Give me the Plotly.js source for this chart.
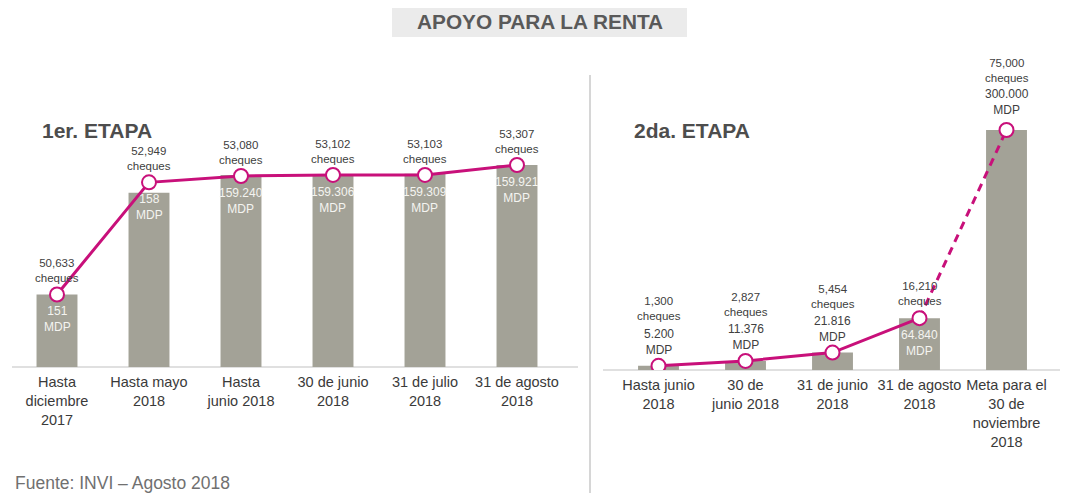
<!DOCTYPE html>
<html>
<head>
<meta charset="utf-8">
<script src="https://cdn.plot.ly/plotly-3.0.1.min.js"></script>
<style>html,body{margin:0;padding:0;background:#fff;}#chart{width:1065px;height:493px;}</style>
</head>
<body>
<div id="chart"></div>
<script>
// ---- Data ----
const etapa1Cats = ['Hasta<br>diciembre<br>2017', 'Hasta mayo<br>2018', 'Hasta<br>junio 2018', '30 de junio<br>2018', '31 de julio<br>2018', '31 de agosto<br>2018'];
const etapa1MDP = [151, 158, 159.240, 159.306, 159.309, 159.921];
const etapa1MDPLabels = ['151', '158', '159.240', '159.306', '159.309', '159.921'];
const etapa1Cheques = [50633, 52949, 53080, 53102, 53103, 53307];

const etapa2Cats = ['Hasta junio<br>2018', '30 de<br>junio 2018', '31 de junio<br>2018', '31 de agosto<br>2018', 'Meta para el<br>30 de<br>noviembre<br>2018'];
const etapa2MDP = [5.2, 11.376, 21.816, 64.840, 300];
const etapa2MDPLabels = ['5.200', '11.376', '21.816', '64.840', '300.000'];
const etapa2Cheques = [1300, 2827, 5454, 16210, 75000];

// ---- Style ----
const FONT = 'Arial, "Liberation Sans", sans-serif';
const BAR = '#a3a297';
const MAG = '#c8107a';
const TXT = '#404040';

const fmt = v => v.toLocaleString('en-US');

const traces = [
  {type: 'bar', x: etapa1Cats, y: etapa1MDP, xaxis: 'x', yaxis: 'y', width: 0.445, marker: {color: BAR}, hoverinfo: 'none'},
  {type: 'scatter', mode: 'lines+markers', x: etapa1Cats, y: etapa1Cheques, xaxis: 'x', yaxis: 'y2',
   line: {color: MAG, width: 3}, marker: {size: 14, color: '#fff', line: {color: MAG, width: 2}}, hoverinfo: 'none'},
  {type: 'bar', x: etapa2Cats, y: etapa2MDP, xaxis: 'x2', yaxis: 'y3', width: 0.47, marker: {color: BAR}, hoverinfo: 'none'},
  {type: 'scatter', mode: 'lines', x: etapa2Cats.slice(0, 4), y: etapa2Cheques.slice(0, 4), xaxis: 'x2', yaxis: 'y4',
   line: {color: MAG, width: 3}, hoverinfo: 'none'},
  {type: 'scatter', mode: 'lines', x: etapa2Cats.slice(3), y: etapa2Cheques.slice(3), xaxis: 'x2', yaxis: 'y4',
   line: {color: MAG, width: 3, dash: '8px,6px'}, hoverinfo: 'none'},
  {type: 'scatter', mode: 'markers', x: etapa2Cats, y: etapa2Cheques, xaxis: 'x2', yaxis: 'y4',
   marker: {size: 14, color: '#fff', line: {color: MAG, width: 2}}, hoverinfo: 'none'}
];

const annotations = [];
// Panel 1 labels
etapa1Cats.forEach((c, i) => {
  annotations.push({x: c, y: etapa1Cheques[i], xref: 'x', yref: 'y2', text: fmt(etapa1Cheques[i]) + '<br>cheques',
    showarrow: false, yanchor: 'bottom', yshift: 8, font: {family: FONT, size: 11.5, color: TXT}});
  annotations.push({x: c, y: etapa1Cheques[i], xref: 'x', yref: 'y2', text: etapa1MDPLabels[i] + '<br>MDP',
    showarrow: false, yanchor: 'top', yshift: -8, font: {family: FONT, size: 12, color: '#f4f4f0'}});
});
// Panel 2 labels
const chShift2 = [42, 41, 41, 9, 44];
const mdpShift2 = [7, 7, 7, -8, 11];
const mdpInside2 = [false, false, false, true, false];
etapa2Cats.forEach((c, i) => {
  annotations.push({x: c, y: etapa2Cheques[i], xref: 'x2', yref: 'y4', text: fmt(etapa2Cheques[i]) + '<br>cheques',
    showarrow: false, yanchor: 'bottom', yshift: chShift2[i], font: {family: FONT, size: 11.5, color: TXT}});
  annotations.push({x: c, y: etapa2Cheques[i], xref: 'x2', yref: 'y4', text: etapa2MDPLabels[i] + '<br>MDP',
    showarrow: false, yanchor: mdpInside2[i] ? 'top' : 'bottom', yshift: mdpShift2[i],
    font: {family: FONT, size: 12, color: mdpInside2[i] ? '#f4f4f0' : TXT}});
});
// Titles and source
annotations.push({xref: 'paper', yref: 'paper', x: 539.5 / 1065, y: 1 - 22 / 493, text: '<b>APOYO PARA LA RENTA</b>',
  showarrow: false, xanchor: 'center', yanchor: 'middle', font: {family: FONT, size: 20.8, color: '#595959'}});
annotations.push({xref: 'paper', yref: 'paper', x: 40 / 1065, y: 1 - 130 / 493, text: '<b>1er. ETAPA</b>',
  showarrow: false, xanchor: 'left', yanchor: 'middle', font: {family: FONT, size: 21, color: '#4d4d4d'}});
annotations.push({xref: 'paper', yref: 'paper', x: 632 / 1065, y: 1 - 130 / 493, text: '<b>2da. ETAPA</b>',
  showarrow: false, xanchor: 'left', yanchor: 'middle', font: {family: FONT, size: 21, color: '#4d4d4d'}});
annotations.push({xref: 'paper', yref: 'paper', x: 13 / 1065, y: 1 - 483 / 493, text: 'Fuente: INVI – Agosto 2018',
  showarrow: false, xanchor: 'left', yanchor: 'middle', font: {family: FONT, size: 17.5, color: '#707070'}});

const hiddenY = {showgrid: false, zeroline: false, showticklabels: false, showline: false, fixedrange: true};
const catX = {type: 'category', showgrid: false, zeroline: false, showline: false,
  ticks: 'outside', ticklen: 2, tickcolor: 'rgba(0,0,0,0)',
  tickfont: {family: FONT, size: 14.5, color: '#3a3a3a'}, tickangle: 0, automargin: false, fixedrange: true};

const layout = {
  width: 1065, height: 493,
  margin: {l: 0, r: 0, t: 0, b: 0},
  paper_bgcolor: '#fff', plot_bgcolor: 'rgba(0,0,0,0)',
  showlegend: false,
  xaxis: Object.assign({}, catX, {domain: [11 / 1065, 563 / 1065], anchor: 'y'}),
  yaxis: Object.assign({}, hiddenY, {domain: [1 - 367 / 493, 1 - 100 / 493], range: [146, 164.4]}),
  yaxis2: Object.assign({}, hiddenY, {overlaying: 'y', range: [49135, 54650]}),
  xaxis2: Object.assign({}, catX, {domain: [615 / 1065, 1050 / 1065], anchor: 'y3'}),
  yaxis3: Object.assign({}, hiddenY, {domain: [1 - 370 / 493, 1 - 100 / 493], range: [0, 337.5]}),
  yaxis4: Object.assign({}, hiddenY, {overlaying: 'y3', range: [0, 84375]}),
  shapes: [
    {type: 'rect', xref: 'paper', yref: 'paper', x0: 392 / 1065, x1: 687 / 1065, y0: 1 - 37 / 493, y1: 1 - 8 / 493,
     fillcolor: '#ebebeb', line: {width: 0}, layer: 'below'},
    {type: 'line', xref: 'paper', yref: 'paper', x0: 590 / 1065, x1: 590 / 1065, y0: 0, y1: 1 - 75 / 493,
     line: {color: '#c8c8c8', width: 1.5}},
    {type: 'line', xref: 'paper', yref: 'paper', x0: 12 / 1065, x1: 578 / 1065, y0: 1 - 367 / 493, y1: 1 - 367 / 493,
     line: {color: '#d6d6d6', width: 1.5}, layer: 'below'},
    {type: 'line', xref: 'paper', yref: 'paper', x0: 603 / 1065, x1: 1060 / 1065, y0: 1 - 370 / 493, y1: 1 - 370 / 493,
     line: {color: '#d6d6d6', width: 1.5}, layer: 'below'}
  ],
  annotations: annotations
};

Plotly.newPlot('chart', traces, layout, {displayModeBar: false, staticPlot: true});
</script>
</body>
</html>
